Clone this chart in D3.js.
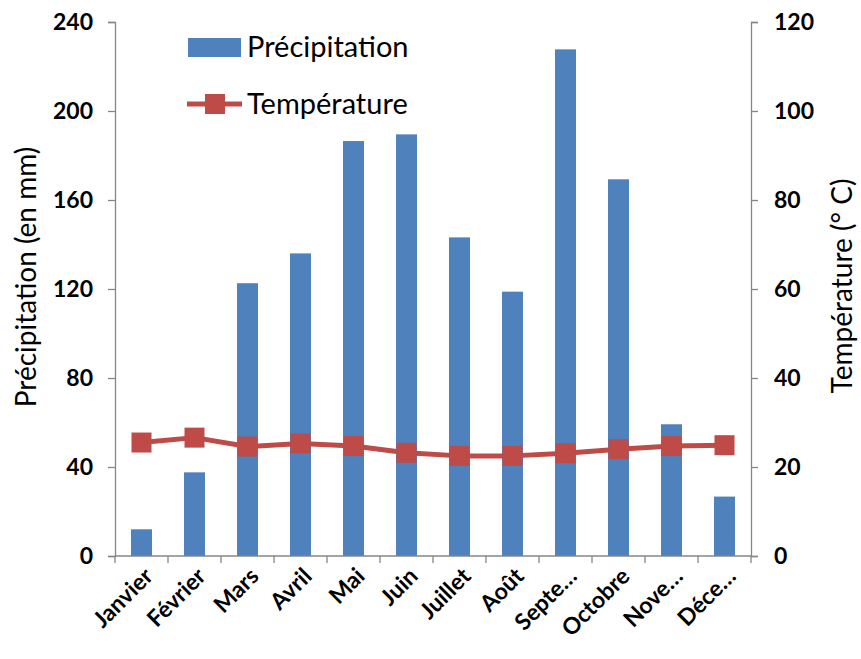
<!DOCTYPE html>
<html><head><meta charset="utf-8">
<script src="https://cdn.jsdelivr.net/npm/d3@7/dist/d3.min.js"></script>
<style>
html,body{margin:0;padding:0;background:#fff;}
text{font-family:Lato,"Open Sans",sans-serif;fill:#000;}
</style></head>
<body>
<svg id="c" width="861" height="659"></svg>
<script>
const months = ["Janvier","Février","Mars","Avril","Mai","Juin","Juillet","Août","Septe…","Octobre","Nove…","Déce…"];
const precipitation = [12, 37.6, 122.6, 136, 186.5, 189.5, 143.2, 118.8, 227.7, 169.3, 59.2, 26.7];
const temperature = [25.5, 26.6, 24.6, 25.3, 24.7, 23.2, 22.5, 22.5, 23.1, 24.0, 24.7, 24.9];
const leftTicks = [0, 40, 80, 120, 160, 200, 240];
const rightTicks = [0, 20, 40, 60, 80, 100, 120];
const seriesNames = ["Précipitation", "Température"];
const axisTitles = ["Précipitation (en mm)", "Température (° C)"];

const barColor = "#4f81bd", lineColor = "#be4b48";
const svg = d3.select("#c");
const L = 115, R = 751, T = 22, B = 556;

const xb = d3.scaleBand().domain(months).range([L, R]);
const yL = d3.scaleLinear().domain([0, 240]).range([B, T]);
const yR = d3.scaleLinear().domain([0, 120]).range([B, T]);

// bars
svg.append("g").selectAll("rect").data(precipitation).join("rect")
  .attr("x", (d,i) => xb(months[i]) + xb.bandwidth()/2 - 10.5)
  .attr("width", 21)
  .attr("y", d => yL(d))
  .attr("height", d => B - yL(d))
  .attr("fill", barColor);

// axes
const axisStyle = g => {
  g.select(".domain").attr("stroke", "#868686").attr("stroke-width", 1.3);
  g.selectAll(".tick line").attr("stroke", "#868686").attr("stroke-width", 1.3);
  g.selectAll("text").style("font-family", "Lato, sans-serif").style("font-size", "23px")
    .style("font-weight", "bold").attr("fill", "#000");
};
svg.append("g").attr("transform", `translate(${L},0)`)
  .call(d3.axisLeft(yL).tickValues(leftTicks).tickSize(7).tickPadding(15))
  .call(axisStyle);
svg.append("g").attr("transform", `translate(${R},0)`)
  .call(d3.axisRight(yR).tickValues(rightTicks).tickSize(7).tickPadding(16))
  .call(axisStyle);

// category axis
const gx = svg.append("g");
gx.append("line").attr("x1", L).attr("x2", R).attr("y1", B).attr("y2", B)
  .attr("stroke", "#868686").attr("stroke-width", 1.3);
const bounds = months.map(m => xb(m)).concat([R]);
gx.selectAll("line.t").data(bounds).join("line").attr("class","t")
  .attr("x1", d => d).attr("x2", d => d).attr("y1", B).attr("y2", B + 7)
  .attr("stroke", "#868686").attr("stroke-width", 1.3);
gx.selectAll("text").data(months).join("text")
  .attr("transform", m => `translate(${xb(m) + xb.bandwidth()/2 + 7},${B + 16}) rotate(-45)`)
  .attr("text-anchor", "end")
  .attr("dy", "0.35em")
  .style("font-size", "23px").style("font-weight", "bold")
  .text(m => m);

// temperature line
const line = d3.line().x((d,i) => xb(months[i]) + xb.bandwidth()/2).y(d => yR(d));
svg.append("path").datum(temperature).attr("d", line)
  .attr("fill", "none").attr("stroke", lineColor).attr("stroke-width", 5).attr("stroke-linejoin", "round");
svg.append("g").selectAll("rect").data(temperature).join("rect")
  .attr("x", (d,i) => xb(months[i]) + xb.bandwidth()/2 - 10)
  .attr("y", d => yR(d) - 10)
  .attr("width", 20).attr("height", 20)
  .attr("fill", lineColor);

// axis titles
svg.append("text").attr("transform", `translate(36,${(T+B)/2 - 12}) rotate(-90)`)
  .attr("text-anchor", "middle").style("font-size", "28px").text(axisTitles[0]);
svg.append("text").attr("transform", `translate(852,${(T+B)/2 - 3}) rotate(-90)`)
  .attr("text-anchor", "middle").style("font-size", "28px").text(axisTitles[1]);

// legend
const lg = svg.append("g");
lg.append("rect").attr("x", 188).attr("y", 38).attr("width", 53).attr("height", 19).attr("fill", barColor);
lg.append("text").attr("x", 247).attr("y", 47).attr("dy", "0.35em").style("font-size", "29px").text(seriesNames[0]);
lg.append("line").attr("x1", 187).attr("x2", 242).attr("y1", 104).attr("y2", 104)
  .attr("stroke", lineColor).attr("stroke-width", 5);
lg.append("rect").attr("x", 205).attr("y", 94).attr("width", 20).attr("height", 20).attr("fill", lineColor);
lg.append("text").attr("x", 247).attr("y", 104).attr("dy", "0.35em").style("font-size", "29px").text(seriesNames[1]);
</script>
</body></html>
